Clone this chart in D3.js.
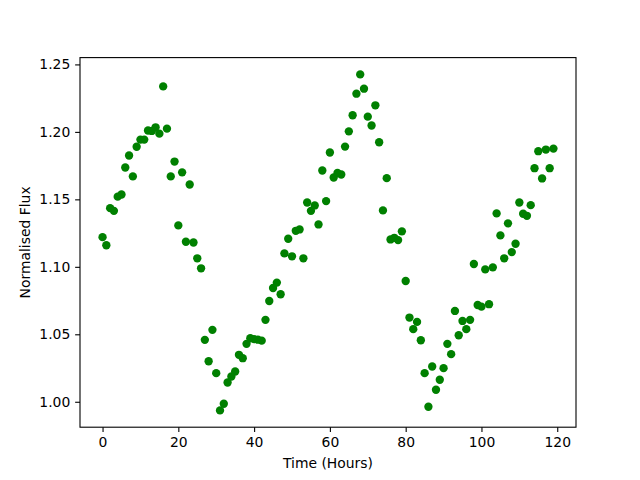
<!DOCTYPE html>
<html>
<head>
<meta charset="utf-8">
<script src="https://cdn.jsdelivr.net/npm/d3@7"></script>
<style>
    body { margin: 0; background: #fff; }
    .axis text { font-family: "DejaVu Sans", sans-serif; font-size: 13.9px; fill: #000; }
    .axis path, .axis line { stroke: #000; stroke-width: 1.1; }
    .label { font-family: "DejaVu Sans", sans-serif; font-size: 13.9px; fill: #000; }
</style>
</head>
<body>
<div id="chart"></div>
<script>
// hours since start, one reading per hour
let hours = d3.range(0, 120);

// normalised flux
let flux = [
    1.122, 1.116, 1.1435, 1.1415, 1.152, 1.1536, 1.1736, 1.1825, 1.167, 1.189,
    1.1943, 1.1943, 1.201, 1.2007, 1.2034, 1.1987, 1.2337, 1.2024, 1.167, 1.178,
    1.1307, 1.170, 1.1186, 1.161, 1.118, 1.1063, 1.0989, 1.0459, 1.030, 1.0533,
    1.0212, 0.9936, 0.9985, 1.0143, 1.0187, 1.0224, 1.0348, 1.0323, 1.0429, 1.0471,
    1.0464, 1.046, 1.0453, 1.0607, 1.0747, 1.0843, 1.0883, 1.0797, 1.110, 1.1208,
    1.1078, 1.1267, 1.1277, 1.1063, 1.1477, 1.1415, 1.1455, 1.1314, 1.1714, 1.1487,
    1.1847, 1.1662, 1.1696, 1.1684, 1.1891, 1.2004, 1.2123, 1.2283, 1.2426, 1.232,
    1.2113, 1.2047, 1.2197, 1.1923, 1.1418, 1.1657, 1.1203, 1.1215, 1.1198, 1.1263,
    1.0895, 1.0624, 1.0538, 1.0592, 1.0456, 1.0212, 0.9963, 1.0261, 1.0089, 1.0163,
    1.0249, 1.0429, 1.0353, 1.0673, 1.0493, 1.0599, 1.0538, 1.0607, 1.1021, 1.0717,
    1.0705, 1.0981, 1.0723, 1.0996, 1.1396, 1.1233, 1.1063, 1.1322, 1.1109, 1.1171,
    1.1477, 1.1393, 1.1378, 1.1457, 1.1731, 1.1857, 1.1655, 1.1869, 1.1731, 1.1876
];

let xTicks = [0, 20, 40, 60, 80, 100, 120];
let yTicks = [1.00, 1.05, 1.10, 1.15, 1.20, 1.25];

let data = hours.map((h, i) => ({ h: h, f: flux[i] }));

let margin = { top: 57.6, right: 64, bottom: 52.8, left: 80 };
let width = 640 - margin.left - margin.right;
let height = 480 - margin.top - margin.bottom;

// matplotlib style 5% padding around data
function padded(ext) {
    let pad = (ext[1] - ext[0]) * 0.05;
    return [ext[0] - pad, ext[1] + pad];
}

let xScale = d3.scaleLinear()
    .domain(padded(d3.extent(hours)))
    .range([0, width]);

let yScale = d3.scaleLinear()
    .domain(padded(d3.extent(flux)))
    .range([height, 0]);

let svg = d3.select("#chart").append("svg")
    .attr("width", 640)
    .attr("height", 480);

let plot = svg.append("g")
    .attr("transform", `translate(${margin.left},${margin.top})`);

let tick = 4.86;

plot.append("g")
    .attr("class", "axis x-axis")
    .attr("transform", `translate(0,${height})`)
    .call(d3.axisBottom(xScale).tickValues(xTicks).tickSize(tick).tickPadding(tick).tickSizeOuter(0));

plot.append("g")
    .attr("class", "axis y-axis")
    .call(d3.axisLeft(yScale).tickValues(yTicks).tickFormat(d3.format(".2f")).tickSize(tick).tickPadding(tick).tickSizeOuter(0));

plot.selectAll(".axis .domain").remove();

plot.selectAll(".dot")
    .data(data)
    .enter().append("circle")
    .attr("class", "dot")
    .attr("cx", d => xScale(d.h))
    .attr("cy", d => yScale(d.f))
    .attr("r", 4.17)
    .style("fill", "#008000");

// frame
plot.append("rect")
    .attr("width", width)
    .attr("height", height)
    .style("fill", "none")
    .style("stroke", "#000")
    .style("stroke-width", 1.1);

svg.append("text")
    .attr("class", "label")
    .attr("x", margin.left + width / 2)
    .attr("y", 468)
    .attr("text-anchor", "middle")
    .text("Time (Hours)");

svg.append("text")
    .attr("class", "label")
    .attr("transform", `translate(30,${margin.top + height / 2}) rotate(-90)`)
    .attr("text-anchor", "middle")
    .text("Normalised Flux");
</script>
</body>
</html>
